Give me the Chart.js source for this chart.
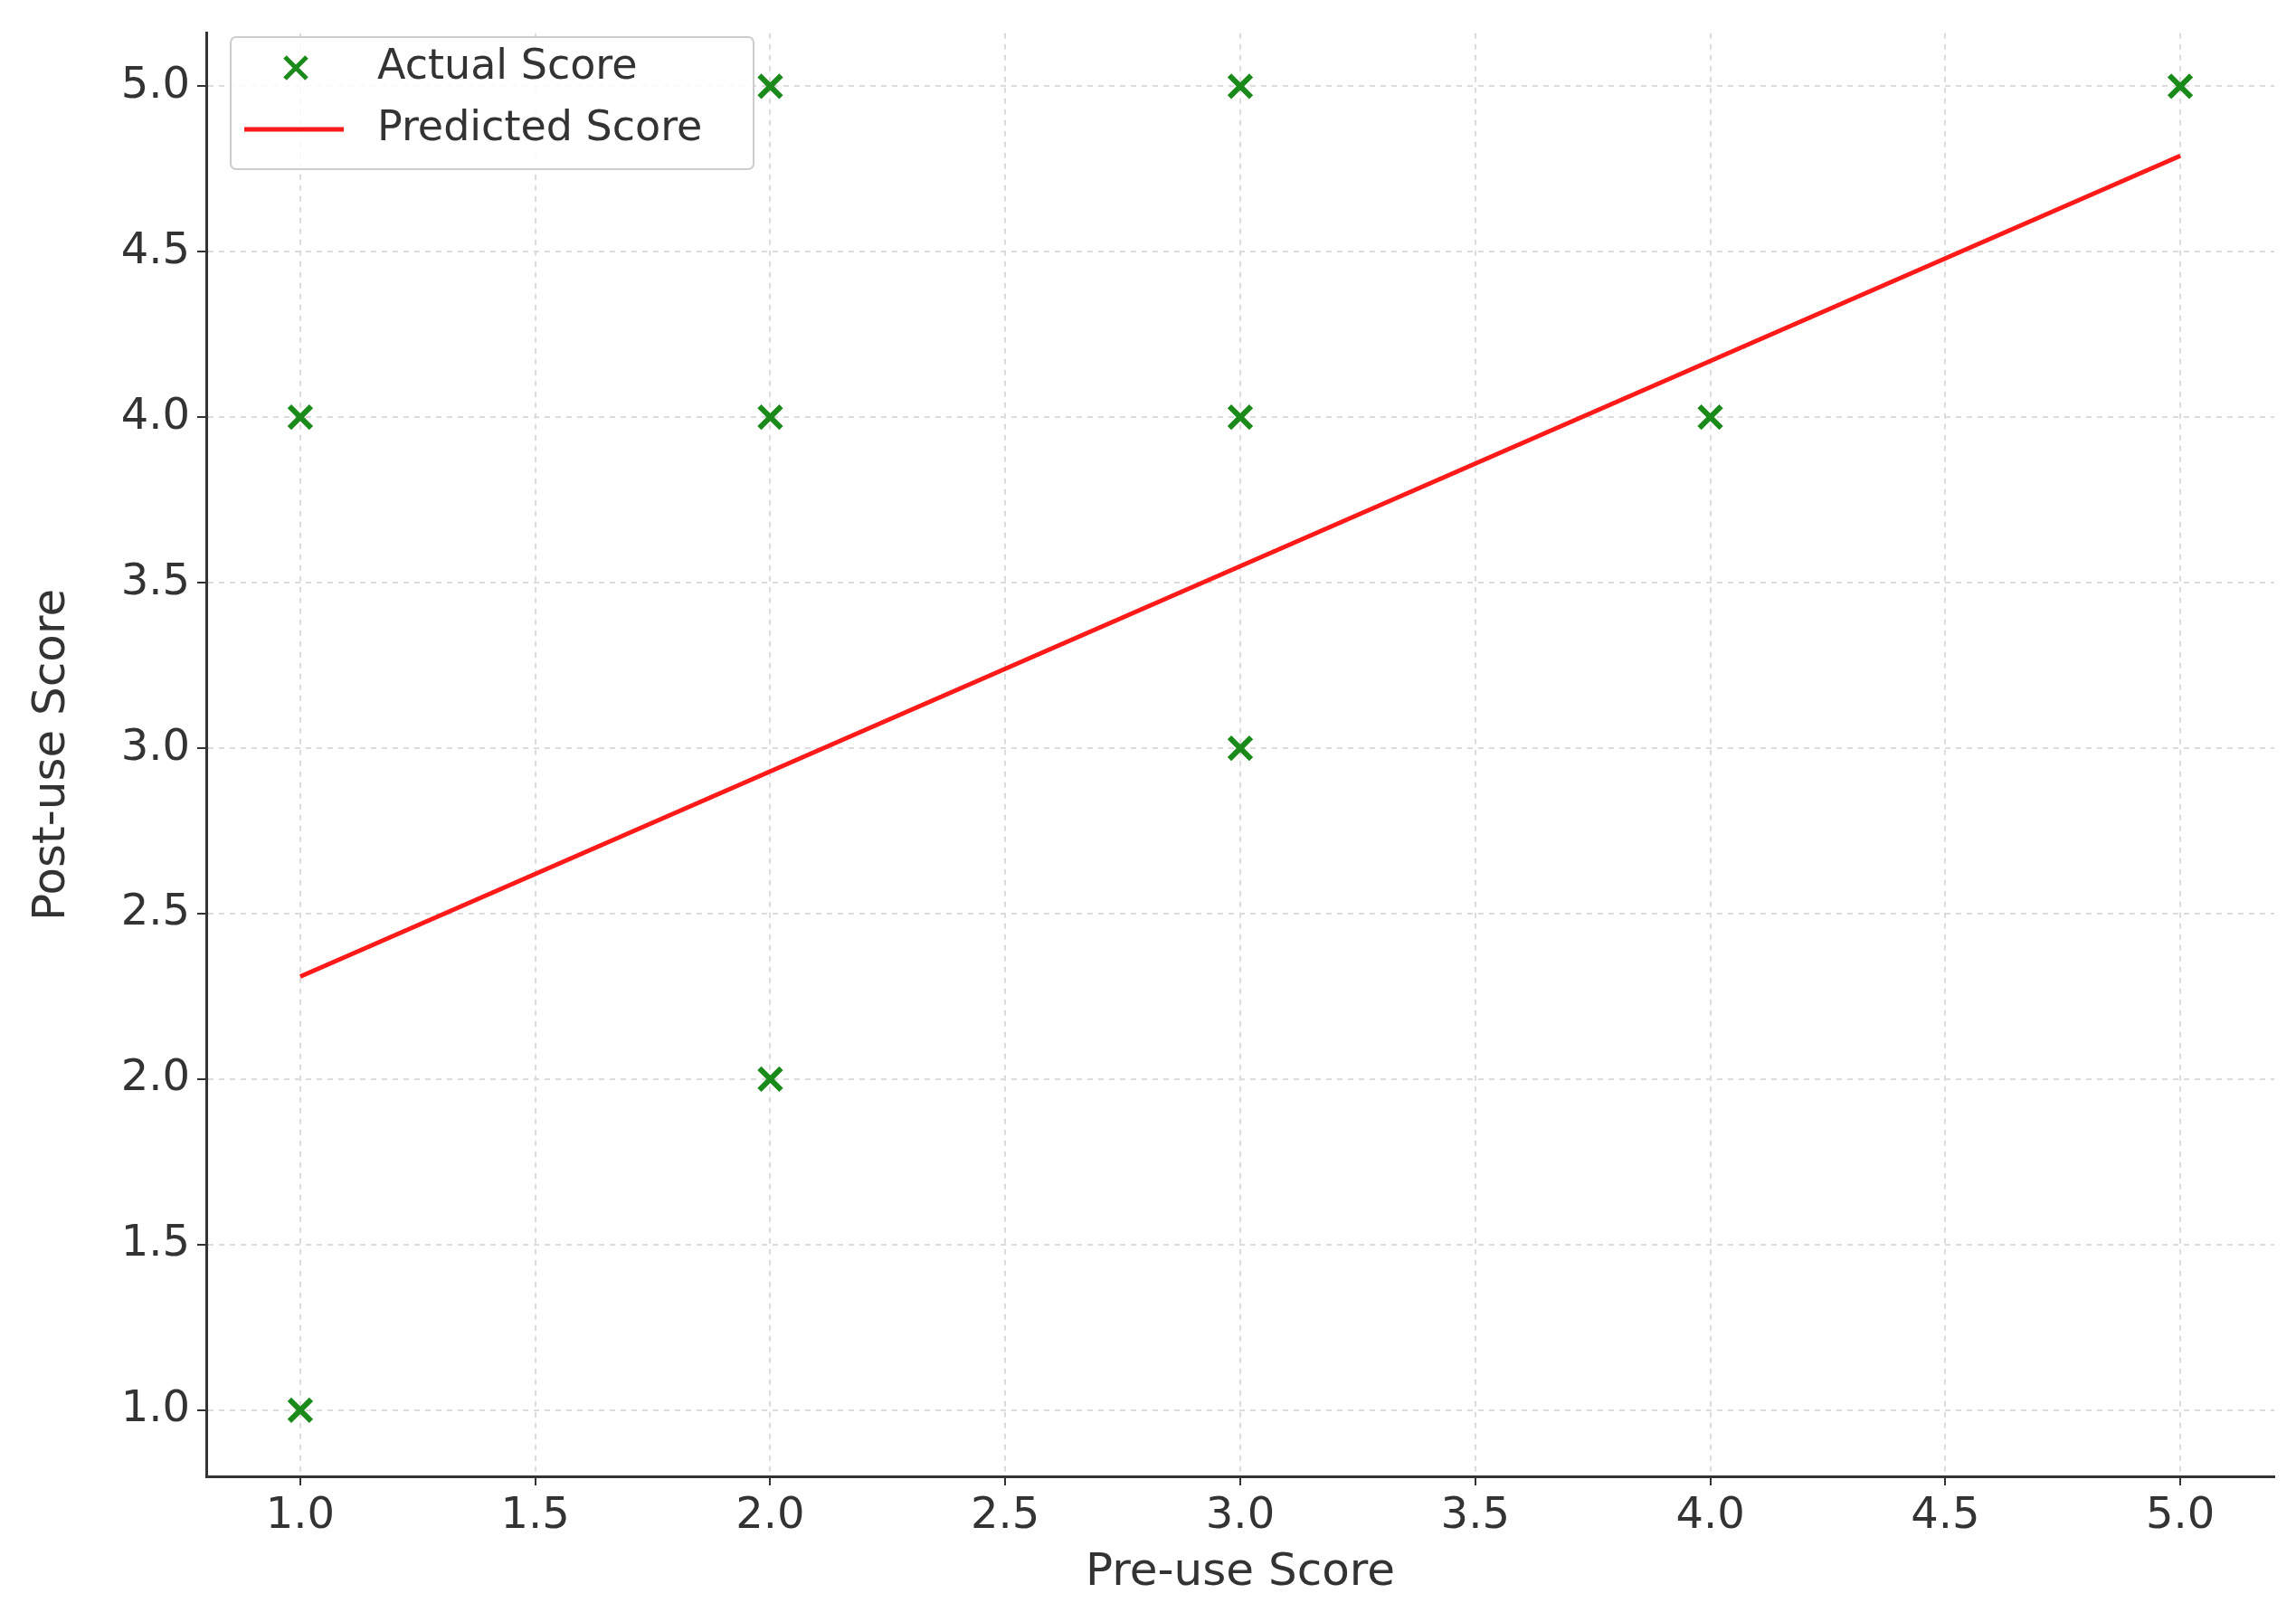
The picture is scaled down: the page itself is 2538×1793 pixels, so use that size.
<!DOCTYPE html>
<html><head><meta charset="utf-8">
<script src="https://cdn.jsdelivr.net/npm/chart.js@4/dist/chart.umd.min.js"></script>
<style>html,body{margin:0;background:#fff}canvas{display:block}</style>
</head><body>
<canvas id="c" width="2538" height="1793"></canvas>
<script>
const actualX = [1, 1, 2, 2, 2, 3, 3, 3, 4, 5];
const actualY = [1, 4, 2, 4, 5, 3, 4, 5, 4, 5];
const predictedX = [1, 5];
const predictedY = [2.31, 4.79];
const xTicks = [1.0, 1.5, 2.0, 2.5, 3.0, 3.5, 4.0, 4.5, 5.0];
const yTicks = [1.0, 1.5, 2.0, 2.5, 3.0, 3.5, 4.0, 4.5, 5.0];

const font = {family: 'DejaVu Sans', size: 48};
const grid = {color: '#dcdcdc', lineWidth: 2, drawTicks: true, tickColor: '#333', tickLength: 10};
const border = {display: true, color: '#333', width: 3, dash: [6, 6]};

const legendPlugin = {
  id: 'boxLegend',
  afterDraw(chart) {
    const ctx = chart.ctx;
    ctx.save();
    ctx.fillStyle = 'rgba(255,255,255,0.85)';
    ctx.strokeStyle = '#cccccc';
    ctx.lineWidth = 2;
    ctx.beginPath(); ctx.roundRect(255, 41, 578, 146, 6); ctx.fill(); ctx.stroke();
    ctx.font = '46px "DejaVu Sans"';
    ctx.fillStyle = '#333'; ctx.textBaseline = 'middle';
    const ds = chart.data.datasets;
    ctx.strokeStyle = '#1a8a1a'; ctx.lineWidth = 5;
    const cx = 327, cy = 75, r = 12;
    ctx.beginPath(); ctx.moveTo(cx-r, cy-r); ctx.lineTo(cx+r, cy+r); ctx.moveTo(cx+r, cy-r); ctx.lineTo(cx-r, cy+r); ctx.stroke();
    ctx.fillText(ds[0].label, 417, 75);
    ctx.strokeStyle = '#ff1a1a'; ctx.lineWidth = 5;
    ctx.beginPath(); ctx.moveTo(270, 143); ctx.lineTo(380, 143); ctx.stroke();
    ctx.fillText(ds[1].label, 417, 143);
    ctx.restore();
  }
};

new Chart(document.getElementById('c'), {
  type: 'scatter',
  data: {
    datasets: [
      {label: 'Actual Score', data: actualX.map((x, i) => ({x, y: actualY[i]})),
       pointStyle: 'crossRot', radius: 17, borderWidth: 6, borderColor: '#1a8a1a', backgroundColor: '#1a8a1a'},
      {label: 'Predicted Score', type: 'line', data: predictedX.map((x, i) => ({x, y: predictedY[i]})),
       borderColor: '#ff1a1a', borderWidth: 5, pointRadius: 0, fill: false}
    ]
  },
  options: {
    responsive: false, animation: false, devicePixelRatio: 1,
    layout: {padding: {top: 29, right: 24, left: 24, bottom: 20}},
    plugins: {legend: {display: false}, tooltip: {enabled: false}},
    scales: {
      x: {type: 'linear', min: 0.8, max: 5.2,
        afterBuildTicks: a => { a.ticks = xTicks.map(v => ({value: v})); },
        afterFit: a => { a.height = 141; },
        ticks: {font, color: '#333', padding: 6, callback: v => Number(v).toFixed(1), maxRotation: 0},
        grid, border,
        title: {display: true, text: 'Pre-use Score', font: {family: 'DejaVu Sans', size: 50}, color: '#333', padding: {top: 0}}},
      y: {type: 'linear', min: 0.8, max: 5.16,
        afterBuildTicks: a => { a.ticks = yTicks.map(v => ({value: v})); },
        afterFit: a => { a.width = 204; },
        ticks: {font, color: '#333', padding: 8, callback: v => Number(v).toFixed(1)},
        grid, border,
        title: {display: true, text: 'Post-use Score', font: {family: 'DejaVu Sans', size: 50}, color: '#333', padding: {bottom: 0}}}
    }
  },
  plugins: [legendPlugin]
});
</script>
</body></html>
